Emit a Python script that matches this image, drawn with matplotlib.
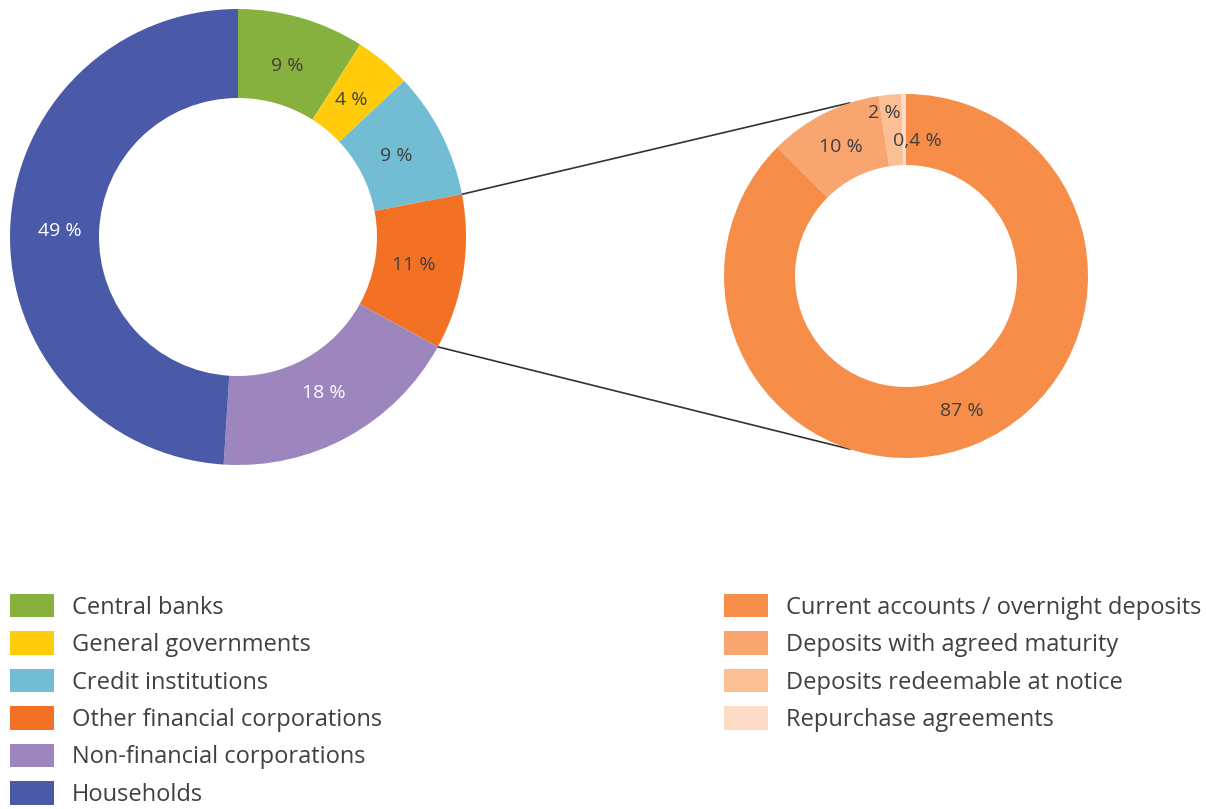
import numpy as np
import matplotlib
matplotlib.use("Agg")
from matplotlib import pyplot as plt
from matplotlib.patches import Patch

plt.rcParams["font.family"] = ["Open Sans", "DejaVu Sans"]

# Deposits by holding sector (left donut)
sectors = ["Central banks", "General governments", "Credit institutions",
           "Other financial corporations", "Non-financial corporations", "Households"]
sector_shares = [9, 4, 9, 11, 18, 49]
sector_labels = ["9 %", "4 %", "9 %", "11 %", "18 %", "49 %"]
sector_colors = ["#86B13F", "#FFCB0A", "#73BDD4", "#F37124", "#9D86BE", "#4A5AA8"]
sector_text = ["#404040", "#404040", "#404040", "#404040", "white", "white"]

# Other financial corporations by instrument (right donut)
instruments = ["Current accounts / overnight deposits", "Deposits with agreed maturity",
               "Deposits redeemable at notice", "Repurchase agreements"]
instrument_shares = [87, 10, 2, 0.4]
instrument_labels = ["87 %", "10 %", "2 %", "0,4 %"]
instrument_colors = ["#F68D48", "#F8A570", "#FBBF96", "#FDDCC5"]

W, H = 1206, 809
fig = plt.figure(figsize=(W / 100, H / 100), dpi=100)
ax = fig.add_axes([0, 0, 1, 1])

text_col = "#404040"

# left donut
c1 = (238, H - 237)
r1 = 228
w1, _ = ax.pie(sector_shares, colors=sector_colors, startangle=90, counterclock=False,
               radius=r1, center=c1, wedgeprops=dict(width=89, edgecolor="none"))
for w, lab, tc in zip(w1, sector_labels, sector_text):
    a = np.deg2rad((w.theta1 + w.theta2) / 2)
    ax.text(c1[0] + 178 * np.cos(a), c1[1] + 178 * np.sin(a), lab, ha="center",
            va="center", fontsize=14, color=tc)

# right donut
c2 = (906, H - 276)
r2 = 182
w2, _ = ax.pie(instrument_shares, colors=instrument_colors, startangle=90,
               counterclock=False, radius=r2, center=c2,
               wedgeprops=dict(width=71, edgecolor="none"))
label_r = [146, 144, 164, 135]
label_dx = [0, 0, -7, 13]
for w, lab, lr, dx in zip(w2, instrument_labels, label_r, label_dx):
    a = np.deg2rad((w.theta1 + w.theta2) / 2)
    ax.text(c2[0] + lr * np.cos(a) + dx, c2[1] + lr * np.sin(a), lab, ha="center",
            va="center", fontsize=14, color=text_col)

# connector lines from the "Other financial corporations" wedge
ofc = w1[3]
for t_left, t_right in [(ofc.theta2, 108), (ofc.theta1, 252)]:
    pa = np.deg2rad(t_left)
    pb = np.deg2rad(t_right)
    ax.plot([c1[0] + r1 * np.cos(pa), c2[0] + r2 * np.cos(pb)],
            [c1[1] + r1 * np.sin(pa), c2[1] + r2 * np.sin(pb)],
            color="#333333", lw=1.2, zorder=0)

ax.set_xlim(0, W)
ax.set_ylim(0, H)
ax.set_aspect("auto")
ax.axis("off")

leg_kw = dict(loc="upper left", frameon=False, fontsize=17, handlelength=1.86,
              handleheight=1.14, handletextpad=0.76, labelspacing=0.5,
              borderpad=0, borderaxespad=0, labelcolor=text_col)
h1 = [Patch(facecolor=c, edgecolor="none") for c in sector_colors]
fig.legend(h1, sectors, bbox_to_anchor=(10 / W, 1 - 594 / H), **leg_kw)
h2 = [Patch(facecolor=c, edgecolor="none") for c in instrument_colors]
fig.legend(h2, instruments, bbox_to_anchor=(724 / W, 1 - 594 / H), **leg_kw)

plt.savefig("out.png", dpi=100)
